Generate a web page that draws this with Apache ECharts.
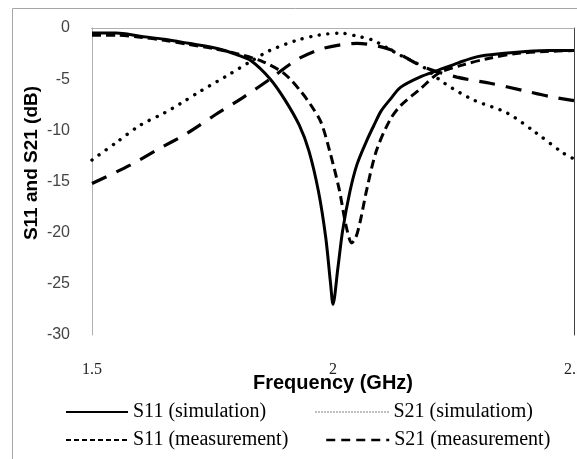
<!DOCTYPE html>
<html>
<head>
<meta charset="utf-8">
<script src="https://cdn.jsdelivr.net/npm/echarts@6/dist/echarts.min.js"></script>
<style>
html,body{margin:0;padding:0;background:#fff;}
#chart{width:577px;height:459px;}
</style>
</head>
<body>
<div id="chart"></div>
<script>
// ---- data ----
var xTicks = [1.5, 2, 2.5];
var yTicks = [0, -5, -10, -15, -20, -25, -30];

var s11SimF = [1.5, 1.55, 1.6, 1.65, 1.7, 1.76, 1.8, 1.83, 1.87, 1.9, 1.93, 1.95, 1.97, 1.985, 1.995, 2.0, 2.01, 2.02, 2.035, 2.05, 2.07, 2.085, 2.1, 2.12, 2.14, 2.18, 2.22, 2.26, 2.3, 2.35, 2.4, 2.45, 2.5];
var s11SimV = [-0.5, -0.5, -0.8, -1.1, -1.5, -2.0, -2.6, -3.2, -5.0, -7.0, -9.5, -12.0, -16.0, -20.5, -25.0, -27.0, -23.5, -19.8, -16.0, -13.3, -11.0, -9.5, -8.1, -6.9, -5.8, -4.8, -4.1, -3.4, -2.8, -2.5, -2.3, -2.2, -2.2];

var s11MeasF = [1.5, 1.55, 1.6, 1.65, 1.7, 1.75, 1.8, 1.855, 1.9, 1.935, 1.955, 1.975, 1.993, 2.013, 2.027, 2.039, 2.047, 2.056, 2.07, 2.09, 2.118, 2.14, 2.18, 2.22, 2.27, 2.32, 2.38, 2.44, 2.5];
var s11MeasV = [-0.7, -0.7, -0.9, -1.2, -1.6, -2.0, -2.5, -3.3, -4.5, -6.3, -7.6, -9.2, -12.0, -15.8, -19.3, -21.0, -20.5, -19.0, -15.8, -12.0, -9.0, -7.6, -6.0, -4.4, -3.6, -3.0, -2.5, -2.3, -2.2];

var s21SimF = [1.5, 1.55, 1.6, 1.65, 1.683, 1.724, 1.786, 1.828, 1.869, 1.925, 1.97, 2.015, 2.05, 2.083, 2.133, 2.187, 2.228, 2.29, 2.361, 2.42, 2.477, 2.5];
var s21SimV = [-12.9, -11.2, -9.5, -8.3, -7.4, -6.2, -4.5, -3.3, -2.2, -1.2, -0.7, -0.5, -0.8, -1.2, -2.5, -3.8, -5.3, -7.0, -8.3, -10.2, -12.2, -12.8];

var s21MeasF = [1.5, 1.579, 1.635, 1.697, 1.755, 1.813, 1.869, 1.925, 1.979, 2.05, 2.118, 2.187, 2.257, 2.326, 2.394, 2.45, 2.5];
var s21MeasV = [-15.2, -13.4, -11.9, -10.3, -8.5, -6.8, -5.0, -3.1, -2.0, -1.5, -2.1, -3.8, -4.8, -5.4, -6.1, -6.7, -7.1];

var names = ['S11 (simulation)', 'S21 (simulatiom)', 'S11 (measurement)', 'S21 (measurement)'];

function pairs(f, v) { return f.map(function (x, i) { return [x, v[i]]; }); }

var chart = echarts.init(document.getElementById('chart'), null, {renderer: 'canvas'});

var legendText = {fontFamily: 'Liberation Serif', fontSize: 20, color: '#000'};
function mkLegend(name, left, top, w, dash, lw) {
  return {
    data: [name], left: left, top: top, padding: 0, itemWidth: w, itemHeight: 14,
    textStyle: legendText, selectedMode: false,
    itemStyle: {opacity: 0},
    lineStyle: {width: lw, type: dash, cap: 'butt'}
  };
}

var option = {
  animation: false,
  backgroundColor: '#fff',
  grid: {left: 92, top: 28, right: 3, bottom: 124, show: false, outerBoundsMode: 'none', containLabel: false},
  graphic: [
    {type: 'rect', shape: {x: 12.5, y: 8.5, width: 700, height: 600}, style: {fill: 'none', stroke: '#a6a6a6', lineWidth: 1}, silent: true, z: -10},
    {type: 'text', x: 32, y: 163, rotation: Math.PI / 2, style: {text: 'S11 and S21 (dB)', font: 'bold 19px "Liberation Sans"', fill: '#000', textAlign: 'center', textVerticalAlign: 'middle'}}
  ],
  legend: [
    mkLegend(names[0], 65, 402, 62, 'solid', 2),
    mkLegend(names[1], 315, 402, 73, [1, 2], 1),
    mkLegend(names[2], 65, 430, 62, [5, 3], 2),
    mkLegend(names[3], 325, 430, 63, [9, 6], 2.5)
  ],
  xAxis: [{
    type: 'value', min: 1.5, max: 2.5, interval: 0.5,
    name: 'Frequency (GHz)', nameLocation: 'middle', nameGap: 38, nameMoveOverlap: false,
    nameTextStyle: {fontFamily: 'Liberation Sans', fontWeight: 'bold', fontSize: 20, color: '#000'},
    axisLine: {show: true, lineStyle: {color: '#404040', width: 1}},
    axisTick: {show: false}, splitLine: {show: false},
    axisLabel: {margin: 27, fontFamily: 'Liberation Serif', fontSize: 16, color: '#222', hideOverlap: false,
      formatter: function (v) { return xTicks.indexOf(v) >= 0 ? String(v) : ''; }}
  }, {
    type: 'value', position: 'top', min: 1.5, max: 2.5,
    axisLine: {show: true, onZero: false, lineStyle: {color: '#b0b0b0', width: 1}},
    axisTick: {show: false}, axisLabel: {show: false}, splitLine: {show: false}
  }],
  yAxis: [{
    type: 'value', min: -30, max: 0, interval: 5,
    axisLine: {show: true, onZero: false, lineStyle: {color: '#b0b0b0', width: 1}},
    axisTick: {show: false}, splitLine: {show: false},
    axisLabel: {margin: 22, fontFamily: 'Liberation Sans', fontSize: 16, color: '#444',
      formatter: function (v) { return yTicks.indexOf(v) >= 0 ? String(v) : ''; }}
  }, {
    type: 'value', position: 'right', min: -30, max: 0,
    axisLine: {show: true, onZero: false, lineStyle: {color: '#404040', width: 1}},
    axisTick: {show: false}, axisLabel: {show: false}, splitLine: {show: false}
  }],
  series: [
    {name: names[0], type: 'line', data: pairs(s11SimF, s11SimV), showSymbol: false, symbol: 'none', smooth: 0.3,
      lineStyle: {color: '#000', width: 3, type: 'solid'}, itemStyle: {color: '#000'}},
    {name: names[1], type: 'line', data: pairs(s21SimF, s21SimV), showSymbol: false, symbol: 'none', smooth: 0.3,
      lineStyle: {color: '#000', width: 3.4, type: [0.1, 8.6], cap: 'round'}, itemStyle: {color: '#000'}},
    {name: names[2], type: 'line', data: pairs(s11MeasF, s11MeasV), showSymbol: false, symbol: 'none', smooth: 0.3,
      lineStyle: {color: '#000', width: 3, type: [9, 5]}, itemStyle: {color: '#000'}},
    {name: names[3], type: 'line', data: pairs(s21MeasF, s21MeasV), showSymbol: false, symbol: 'none', smooth: 0.3,
      lineStyle: {color: '#000', width: 3.2, type: [16, 11]}, itemStyle: {color: '#000'}}
  ]
};
chart.setOption(option);
</script>
</body>
</html>
